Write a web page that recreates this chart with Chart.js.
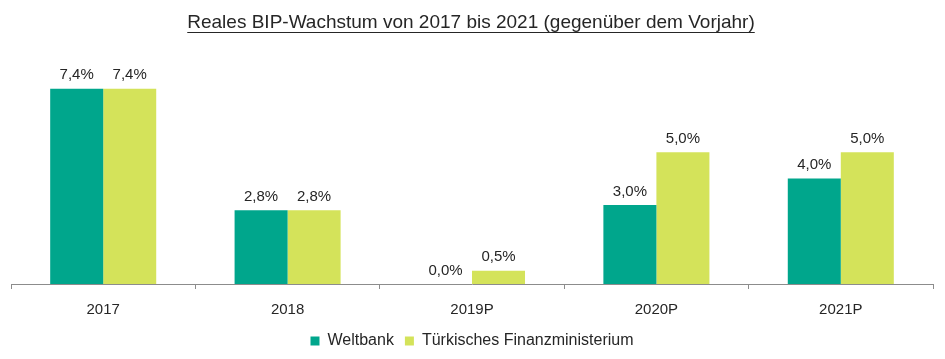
<!DOCTYPE html>
<html>
<head>
<meta charset="utf-8">
<script src="https://cdn.jsdelivr.net/npm/chart.js@4/dist/chart.umd.min.js"></script>
<style>
  body { margin: 0; background: #fff; }
  #wrap { width: 945px; height: 359px; }
</style>
</head>
<body>
<div id="wrap"><canvas id="chart" width="945" height="359"></canvas></div>
<script>
const jahre = ["2017", "2018", "2019P", "2020P", "2021P"];
const weltbank = [7.4, 2.8, 0.0, 3.0, 4.0];
const finanzministerium = [7.4, 2.8, 0.5, 5.0, 5.0];
const titel = "Reales BIP-Wachstum von 2017 bis 2021 (gegenüber dem Vorjahr)";

const textFarbe = "#262626";
const schrift = "'Liberation Sans', Arial, sans-serif";

// title with underline
const titelPlugin = {
    id: "titel",
    afterDraw(chart) {
        const ctx = chart.ctx;
        ctx.save();
        ctx.font = "19px " + schrift;
        ctx.fillStyle = textFarbe;
        ctx.textAlign = "center";
        ctx.textBaseline = "alphabetic";
        const x = 471;
        ctx.fillText(titel, x, 28);
        const w = ctx.measureText(titel).width;
        ctx.fillRect(x - w / 2, 32, w, 1);
        ctx.restore();
    }
};

// value labels above the bars
const wertPlugin = {
    id: "werte",
    afterDatasetsDraw(chart) {
        const ctx = chart.ctx;
        ctx.save();
        ctx.font = "15px " + schrift;
        ctx.fillStyle = textFarbe;
        ctx.textAlign = "center";
        ctx.textBaseline = "bottom";
        chart.data.datasets.forEach(function(ds, i) {
            chart.getDatasetMeta(i).data.forEach(function(bar, j) {
                const txt = ds.data[j].toFixed(1).replace(".", ",") + "%";
                ctx.fillText(txt, bar.x, bar.y - 6);
            });
        });
        ctx.restore();
    }
};

new Chart(
    document.querySelector("canvas#chart"),
    {
        type: "bar",
        data: {
            labels: jahre,
            datasets: [
                {
                    label: "Weltbank",
                    data: weltbank,
                    backgroundColor: "#00a68c"
                },
                {
                    label: "Türkisches Finanzministerium",
                    data: finanzministerium,
                    backgroundColor: "#d4e35a"
                }
            ]
        },
        options: {
            responsive: false,
            animation: false,
            layout: { padding: { top: 73, left: 11, right: 12, bottom: 0 } },
            datasets: {
                bar: { categoryPercentage: 0.575, barPercentage: 1 }
            },
            scales: {
                x: {
                    afterFit: function(scale) { scale.height = 38; },
                    grid: {
                        offset: true,
                        drawOnChartArea: false,
                        drawTicks: true,
                        tickLength: 5,
                        color: "#8c8c8c"
                    },
                    border: { display: true, color: "#8c8c8c", width: 1 },
                    ticks: {
                        color: textFarbe,
                        font: { size: 15, family: schrift },
                        padding: 12
                    }
                },
                y: {
                    display: false,
                    min: 0,
                    max: 8
                }
            },
            plugins: {
                legend: {
                    position: "bottom",
                    labels: {
                        color: textFarbe,
                        font: { size: 16, family: schrift },
                        boxWidth: 9,
                        boxHeight: 9,
                        padding: 11
                    }
                },
                tooltip: { enabled: false }
            }
        },
        plugins: [titelPlugin, wertPlugin]
    }
);
</script>
</body>
</html>
